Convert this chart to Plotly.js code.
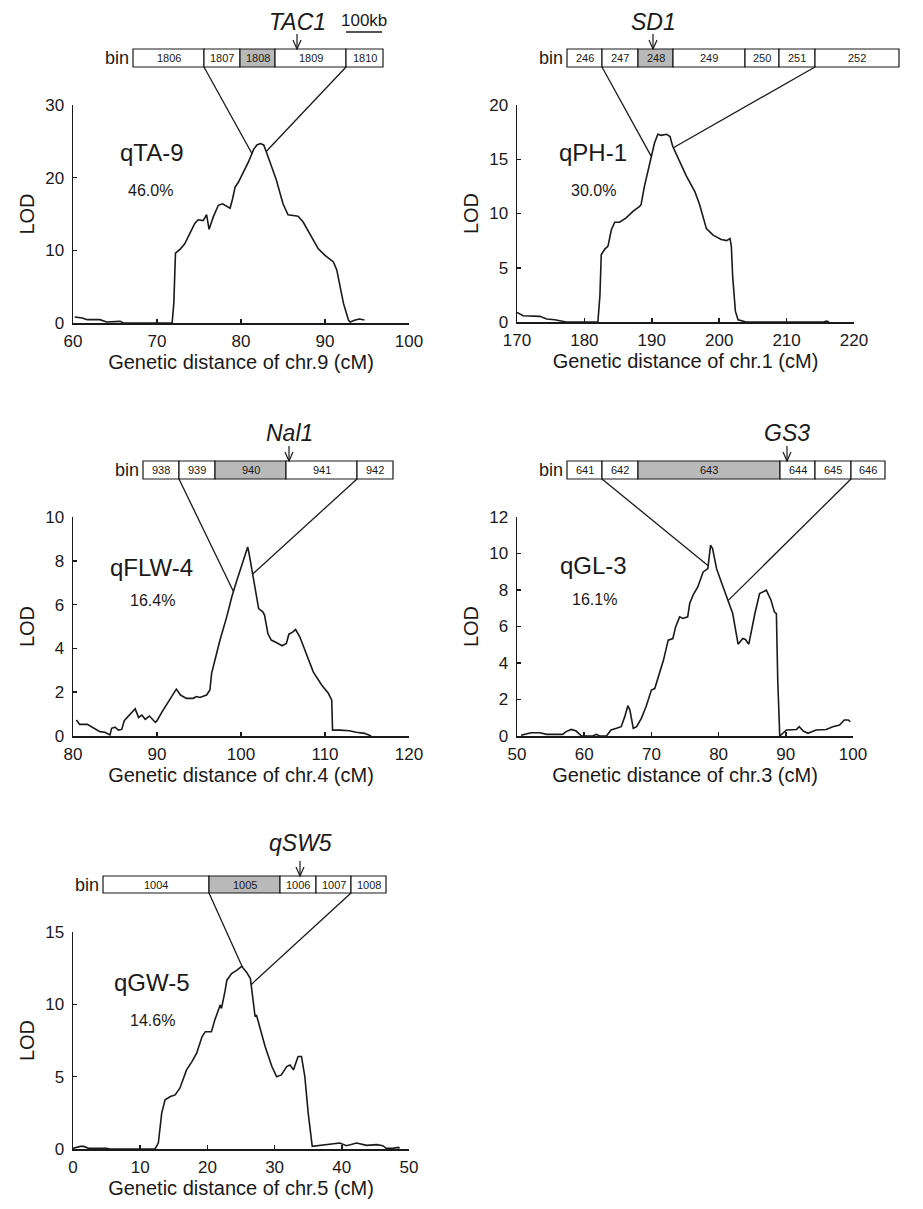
<!DOCTYPE html>
<html>
<head>
<meta charset="utf-8">
<script src="https://cdn.plot.ly/plotly-3.0.1.min.js"></script>
<style>html,body{margin:0;padding:0;background:#fff;}#chart{width:923px;height:1209px;}</style>
</head>
<body>
<div id="chart"></div>
<script>
// ---------------- DATA ----------------
const qta9_cM  = [60.2,61.1,61.7,63.2,64.0,65.6,66.0,71.8,72.0,72.2,72.8,73.3,73.9,74.5,74.9,75.5,75.9,76.2,76.7,77.3,77.8,78.7,79.0,79.3,79.7,80.3,80.9,81.5,81.9,82.3,82.7,83.0,83.6,84.2,85.0,85.6,86.2,86.8,87.4,88.2,89.2,90.0,91.0,91.4,91.8,92.2,92.8,93.0,93.5,94.1,94.7];
const qta9_LOD = [0.83,0.7,0.46,0.46,0.14,0.23,0,0,2.7,9.6,10.2,10.9,12.3,13.7,14.2,14.1,14.9,12.9,14.6,16.2,16.4,15.8,17.1,18.7,19.4,20.8,22.2,23.9,24.5,24.7,24.5,23.6,21.7,19.7,16.4,14.9,14.8,14.7,13.9,12.3,10.2,9.3,8.4,7.3,5.0,2.7,0.37,0.14,0.37,0.55,0.4];

const qph1_cM  = [170.0,170.9,173.4,174.4,175.6,176.6,177.3,182.0,182.3,182.5,183.0,183.5,184.0,184.5,185.2,186.2,187.2,188.1,188.4,188.9,189.7,190.4,190.9,191.4,192.2,192.7,193.1,194.1,195.1,196.4,197.1,198.1,199.1,200.3,201.1,201.6,201.8,202.0,202.4,202.8,204.0,215.5,215.9,216.3];
const qph1_LOD = [0.89,0.58,0.52,0.28,0.21,0.06,0,0,2.4,6.2,6.7,7.0,8.5,9.2,9.2,9.6,10.2,10.6,10.8,12.5,14.8,16.5,17.3,17.2,17.3,17.1,16.2,14.8,13.5,12.0,10.8,8.6,8.0,7.6,7.5,7.7,7.0,4.2,1.0,0.2,0,0,0.08,0];

const qflw4_cM  = [80.4,80.8,81.7,82.5,83.2,83.8,84.4,84.6,85.0,85.4,85.8,86.1,86.6,87.2,87.4,87.8,88.2,88.6,89.1,89.8,90.0,90.6,91.2,91.8,92.3,92.8,93.5,94.3,94.7,95.1,95.9,96.3,96.5,96.9,97.5,98.3,98.9,99.5,100.1,100.5,100.8,101.0,101.5,101.9,102.1,102.6,102.8,103.2,103.6,104.2,104.9,105.4,105.7,106.1,106.5,107.0,107.8,108.6,109.6,110.4,110.8,110.9,111.8,112.9,113.7,114.7,115.5];
const qflw4_LOD = [0.73,0.53,0.53,0.35,0.2,0.17,0.05,0.35,0.4,0.27,0.3,0.7,0.91,1.2,1.25,0.85,0.96,0.76,0.91,0.62,0.7,1.1,1.46,1.87,2.14,1.87,1.72,1.72,1.8,1.76,1.87,2.1,2.86,3.47,4.38,5.44,6.35,7.1,7.8,8.33,8.63,8.25,7.19,6.43,5.82,5.67,5.52,4.68,4.38,4.27,4.12,4.23,4.65,4.73,4.86,4.53,3.77,2.93,2.33,1.95,1.64,0.27,0.27,0.24,0.17,0.12,0];

const qgl3_cM  = [50.6,51.4,52.1,53.4,54.4,56.8,57.3,58.1,58.8,59.6,61.3,61.8,62.3,63.3,64.0,64.8,65.5,66.0,66.5,66.8,67.3,67.8,68.5,69.2,70.0,70.5,71.2,71.8,72.5,73.2,73.6,74.2,74.7,75.4,75.7,76.2,76.9,77.7,78.4,78.8,79.1,79.7,80.4,81.1,82.1,82.9,83.6,84.0,84.5,85.4,86.1,87.1,87.8,88.3,88.6,88.8,89.1,90.1,91.6,92.0,92.6,93.3,94.5,96.0,97.0,98.0,98.7,99.3,99.6];
const qgl3_LOD = [0.04,0.11,0.18,0.18,0.09,0.09,0.24,0.36,0.27,0,0,0.09,0,0,0.33,0.42,0.51,1.02,1.66,1.42,0.42,0.51,0.97,1.6,2.52,2.6,3.43,4.16,5.25,5.34,5.98,6.53,6.44,6.53,7.26,7.72,8.17,8.99,9.17,10.45,10.27,9.17,8.44,7.72,6.71,5.03,5.34,5.29,5.03,6.71,7.81,7.99,7.44,6.8,6.71,3.06,0,0.33,0.36,0.51,0.27,0.15,0.33,0.36,0.51,0.6,0.88,0.88,0.78];

const qgw5_cM  = [0.0,1.1,1.6,2.3,5.0,5.5,12.2,12.7,13.2,13.7,14.5,15.2,15.9,16.4,16.9,17.7,18.4,19.2,19.7,20.6,21.1,21.9,22.1,22.6,22.9,23.6,24.4,25.1,25.8,26.4,26.7,27.1,27.3,27.8,28.6,29.6,30.3,31.0,31.8,32.3,32.8,33.5,34.0,34.5,35.0,35.6,36.7,38.2,39.7,40.7,42.2,43.7,45.2,46.1,46.6,47.6,48.4,48.6];
const qgw5_LOD = [0.05,0.18,0.18,0.05,0.05,0,0,0.41,2.48,3.4,3.63,3.74,4.2,4.78,5.47,6.04,6.62,7.76,8.11,8.11,8.91,9.95,9.72,10.86,11.67,12.13,12.36,12.63,12.24,11.78,10.52,9.14,9.26,8.45,7.07,5.7,5.0,5.12,5.7,5.81,5.47,6.39,6.39,5.0,2.48,0.18,0.25,0.3,0.41,0.23,0.41,0.25,0.3,0.23,0.05,0.05,0.11,0.05];

const qtlNames   = ['qTA-9','qPH-1','qFLW-4','qGL-3','qGW-5'];
const pveLabels  = ['46.0%','30.0%','16.4%','16.1%','14.6%'];
const chrTitles  = ['Genetic distance of chr.9 (cM)','Genetic distance of chr.1 (cM)','Genetic distance of chr.4 (cM)','Genetic distance of chr.3 (cM)','Genetic distance of chr.5 (cM)'];
const geneNames  = ['TAC1','SD1','Nal1','GS3','qSW5'];
const bins_qta9  = ['1806','1807','1808','1809','1810'];
const bins_qph1  = ['246','247','248','249','250','251','252'];
const bins_qflw4 = ['938','939','940','941','942'];
const bins_qgl3  = ['641','642','643','644','645','646'];
const bins_qgw5  = ['1004','1005','1006','1007','1008'];
const candidateBin = ['1808','248','940','643','1005'];
// cM positions where the interval lines meet the LOD curve
const link_qta9  = [81.3, 83.0];
const link_qph1  = [189.9, 193.2];
const link_qflw4 = [99.1, 101.4];
const link_qgl3  = [78.45, 81.4];
const link_qgw5  = [25.2, 26.5];

// ---------------- LAYOUT GEOMETRY (pixels) ----------------
const W = 923, H = 1209;
const px = x => x / W, py = y => 1 - y / H;
const FONT = '"Liberation Sans", Arial, sans-serif';
const INK = '#1a1a1a';

const panels = [
  {cm: qta9_cM, lod: qta9_LOD, bins: bins_qta9, links: link_qta9,
   xr:[60,100], yr:[0,30], dtx:10, dty:10, box:{l:73,r:409,t:105,b:323},
   edges:[133,204,240,275,346,383], barY:[49,67], linkEdge:[1,4],
   label:[152,153], pct:[150,190], geneX:297, geneY:22, arrowTop:34},
  {cm: qph1_cM, lod: qph1_LOD, bins: bins_qph1, links: link_qph1,
   xr:[170,220], yr:[0,20], dtx:10, dty:5, box:{l:517,r:854,t:105,b:322},
   edges:[567,602,638,673,745,779,815,899], barY:[49,67], linkEdge:[1,6],
   label:[593,153], pct:[593,190], geneX:653, geneY:22, arrowTop:34},
  {cm: qflw4_cM, lod: qflw4_LOD, bins: bins_qflw4, links: link_qflw4,
   xr:[80,120], yr:[0,10], dtx:10, dty:2, box:{l:73,r:409,t:517,b:736},
   edges:[143,179,215,286,357,393], barY:[461,479], linkEdge:[1,4],
   label:[151,567], pct:[152,600], geneX:289, geneY:433, arrowTop:446},
  {cm: qgl3_cM, lod: qgl3_LOD, bins: bins_qgl3, links: link_qgl3,
   xr:[50,100], yr:[0,12], dtx:10, dty:2, box:{l:517,r:853,t:517,b:736},
   edges:[567,602,638,780,815,851,885], barY:[461,479], linkEdge:[1,5],
   label:[593,565], pct:[594,599], geneX:787, geneY:433, arrowTop:446},
  {cm: qgw5_cM, lod: qgw5_LOD, bins: bins_qgw5, links: link_qgw5,
   xr:[0,50], yr:[0,15], dtx:10, dty:5, box:{l:73,r:409,t:932,b:1149},
   edges:[103,209,280,316,351,386], barY:[876,893], linkEdge:[1,4],
   label:[152,982], pct:[152,1020], geneX:300, geneY:843, arrowTop:861}
];

function interp(xs, ys, x) {
  for (let i = 0; i < xs.length - 1; i++) {
    if (x >= xs[i] && x <= xs[i+1]) {
      const t = (x - xs[i]) / (xs[i+1] - xs[i]);
      return ys[i] + t * (ys[i+1] - ys[i]);
    }
  }
  return ys[ys.length-1];
}

const traces = [], shapes = [], annotations = [];
const layout = {
  width: W, height: H, margin:{l:0,r:0,t:0,b:0},
  paper_bgcolor:'#fff', plot_bgcolor:'rgba(0,0,0,0)',
  showlegend:false, font:{family:FONT, color:INK}
};

panels.forEach((p, i) => {
  const n = i + 1, sfx = n === 1 ? '' : String(n);
  traces.push({type:'scatter', mode:'lines', x:p.cm, y:p.lod,
    xaxis:'x'+sfx, yaxis:'y'+sfx, line:{color:INK, width:1.6}, hoverinfo:'skip'});
  const xd = [px(p.box.l), px(p.box.r)], yd = [py(p.box.b), py(p.box.t)];
  const common = {showline:true, linecolor:INK, linewidth:1.5, ticks:'inside', ticklen:4,
    tickwidth:1.5, tickcolor:INK, showgrid:false, zeroline:false, fixedrange:true,
    tickfont:{family:FONT, size:17, color:INK}, automargin:false};
  layout['xaxis'+sfx] = Object.assign({}, common, {domain:xd, range:p.xr, dtick:p.dtx, tick0:0,
    anchor:'y'+sfx, ticklabelstandoff:2,
    title:{text:chrTitles[i], font:{family:FONT, size:20, color:INK}, standoff:4}});
  layout['yaxis'+sfx] = Object.assign({}, common, {domain:yd, range:p.yr, dtick:p.dty, tick0:0,
    anchor:'x'+sfx, ticklabelstandoff:4,
    title:{text:'LOD', font:{family:FONT, size:20, color:INK}, standoff:5}});

  // data->paper helpers
  const dx = v => xd[0] + (v - p.xr[0]) / (p.xr[1] - p.xr[0]) * (xd[1] - xd[0]);
  const dy = v => yd[0] + (v - p.yr[0]) / (p.yr[1] - p.yr[0]) * (yd[1] - yd[0]);

  // bin boxes
  p.bins.forEach((b, j) => {
    const x0 = p.edges[j], x1 = p.edges[j+1];
    shapes.push({type:'rect', xref:'paper', yref:'paper', x0:px(x0), x1:px(x1),
      y0:py(p.barY[1]), y1:py(p.barY[0]),
      fillcolor: b === candidateBin[i] ? '#b9b9b9' : '#ffffff',
      line:{color:INK, width:1.2}, layer:'above'});
    annotations.push({xref:'paper', yref:'paper', x:px((x0+x1)/2), y:py((p.barY[0]+p.barY[1])/2),
      text:b, showarrow:false, font:{family:FONT, size:11, color:INK}, xanchor:'center', yanchor:'middle'});
  });
  annotations.push({xref:'paper', yref:'paper', x:px(p.edges[0]-2), y:py((p.barY[0]+p.barY[1])/2),
    text:'bin', showarrow:false, font:{family:FONT, size:18, color:INK}, xanchor:'right', yanchor:'middle'});

  // gene label and arrow
  annotations.push({xref:'paper', yref:'paper', x:px(p.geneX), y:py(p.geneY),
    text:'<i>'+geneNames[i]+'</i>', showarrow:false, font:{family:FONT, size:23, color:INK},
    xanchor:'center', yanchor:'middle'});
  shapes.push({type:'line', xref:'paper', yref:'paper', x0:px(p.geneX), x1:px(p.geneX),
    y0:py(p.arrowTop), y1:py(p.barY[0]), line:{color:INK, width:1.2}});
  shapes.push({type:'path', xref:'paper', yref:'paper',
    path:`M${px(p.geneX-4)},${py(p.barY[0]-9)} L${px(p.geneX)},${py(p.barY[0])} L${px(p.geneX+4)},${py(p.barY[0]-9)}`,
    line:{color:INK, width:1.2}});

  // interval lines to the curve
  p.links.forEach((cmv, k) => {
    const ex = p.edges[p.linkEdge[k]];
    shapes.push({type:'line', xref:'paper', yref:'paper',
      x0:px(ex), y0:py(p.barY[1]), x1:dx(cmv), y1:dy(interp(p.cm, p.lod, cmv)),
      line:{color:INK, width:1.3}});
  });

  // QTL name and PVE
  annotations.push({xref:'paper', yref:'paper', x:px(p.label[0]), y:py(p.label[1]),
    text:qtlNames[i], showarrow:false, font:{family:FONT, size:24, color:INK}, xanchor:'center', yanchor:'middle'});
  annotations.push({xref:'paper', yref:'paper', x:px(p.pct[0]), y:py(p.pct[1]),
    text:pveLabels[i], showarrow:false, font:{family:FONT, size:16, color:INK}, xanchor:'center', yanchor:'middle'});
});

// scale bar "100kb"
annotations.push({xref:'paper', yref:'paper', x:px(364), y:py(20), text:'100kb', showarrow:false,
  font:{family:FONT, size:17, color:INK}, xanchor:'center', yanchor:'middle'});
shapes.push({type:'line', xref:'paper', yref:'paper', x0:px(346), x1:px(382), y0:py(32), y1:py(32),
  line:{color:INK, width:1.4}});

layout.shapes = shapes;
layout.annotations = annotations;
Plotly.newPlot('chart', traces, layout, {staticPlot:true, displayModeBar:false});
</script>
</body>
</html>
